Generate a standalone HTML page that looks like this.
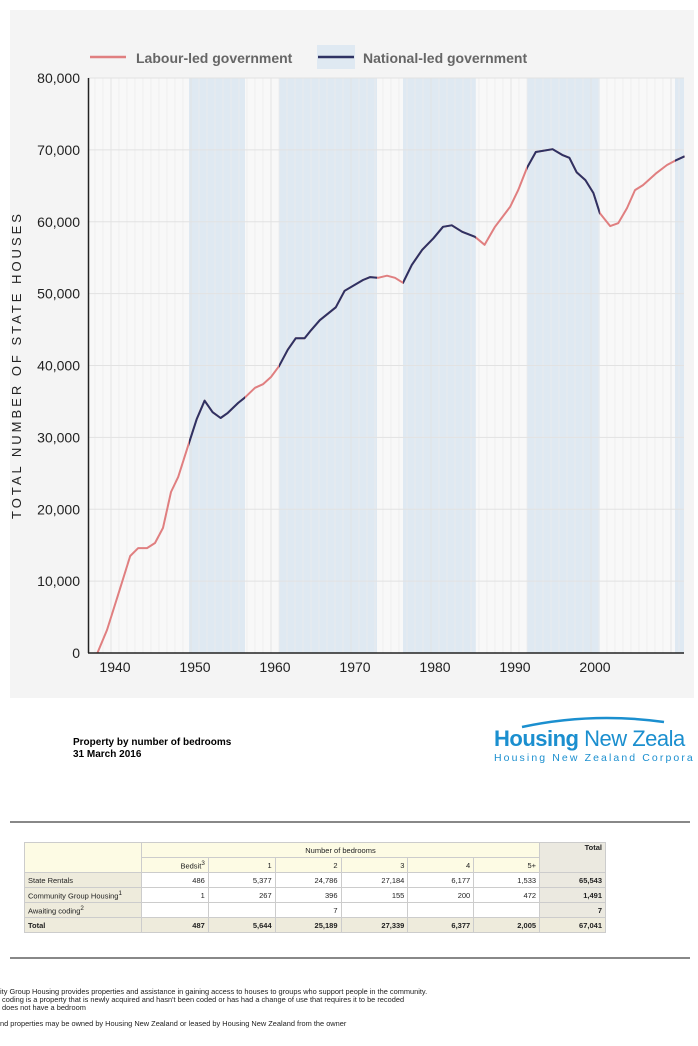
<!DOCTYPE html>
<html><head><meta charset="utf-8"><style>
body{margin:0;width:698px;height:1046px;background:#fff;font-family:"Liberation Sans",sans-serif;position:relative;overflow:hidden}
.abs{position:absolute}
table{border-collapse:collapse;font-size:7.5px;color:#222}
td{border:1px solid #ccc;padding:0 3px;height:14px;text-align:right;white-space:nowrap}
</style></head><body>
<svg class="abs" style="left:0;top:0" width="698" height="700">
<rect x="10" y="10" width="684" height="688" fill="#f4f4f4"/>
<g id="plot"></g>
</svg>
<div class="abs" style="left:73px;top:737px;font-size:10px;font-weight:bold;line-height:12px">Property by number of bedrooms<br>31 March 2016</div>
<div class="abs" style="left:492px;top:712px;width:206px;height:60px">
<svg class="abs" style="left:0;top:0" width="206" height="20"><path d="M30 15 Q100 0 172 10" stroke="#1b8fcf" stroke-width="2.5" fill="none"/></svg>
<div class="abs" style="left:2px;top:14px;font-size:22px;color:#1b8fcf;white-space:nowrap;letter-spacing:-0.5px"><b>Housing</b> New Zeala</div>
<div class="abs" style="left:2px;top:40px;font-size:10.5px;color:#1b8fcf;letter-spacing:2.1px;white-space:nowrap">Housing New Zealand Corpora</div>
</div>
<div class="abs" style="left:10px;top:821px;width:680px;height:2px;background:#888"></div>
<div class="abs" style="left:10px;top:957px;width:680px;height:2px;background:#888"></div>
<table class="abs" style="left:24px;top:842px;width:582px">
<colgroup><col style="width:117px"><col style="width:67px"><col style="width:67px"><col style="width:66px"><col style="width:67px"><col style="width:66px"><col style="width:66px"><col style="width:66px"></colgroup>
<tr><td rowspan="2" style="background:#fdfbe4"></td><td colspan="6" style="text-align:center;background:#fdfbe4">Number of bedrooms</td><td rowspan="2" style="background:#ebe9e0;vertical-align:top;font-weight:bold">Total</td></tr>
<tr style="background:#fdfbe4"><td>Bedsit<sup>3</sup></td><td>1</td><td>2</td><td>3</td><td>4</td><td>5+</td></tr>
<tr><td style="text-align:left;background:#eeebdc">State Rentals</td><td>486</td><td>5,377</td><td>24,786</td><td>27,184</td><td>6,177</td><td>1,533</td><td style="background:#ebe9e0;font-weight:bold">65,543</td></tr>
<tr><td style="text-align:left;background:#eeebdc">Community Group Housing<sup>1</sup></td><td>1</td><td>267</td><td>396</td><td>155</td><td>200</td><td>472</td><td style="background:#ebe9e0;font-weight:bold">1,491</td></tr>
<tr><td style="text-align:left;background:#eeebdc">Awaiting coding<sup>2</sup></td><td></td><td></td><td>7</td><td></td><td></td><td></td><td style="background:#ebe9e0;font-weight:bold">7</td></tr>
<tr style="background:#eeebdc;font-weight:bold"><td style="text-align:left">Total</td><td>487</td><td>5,644</td><td>25,189</td><td>27,339</td><td>6,377</td><td>2,005</td><td>67,041</td></tr>
</table>
<div class="abs" style="left:0;top:988px;font-size:7.4px;line-height:8px;color:#222;white-space:nowrap">ity Group Housing provides properties and assistance in gaining access to houses to groups who support people in the community.<br>&nbsp;coding is a property that is newly acquired and hasn't been coded or has had a change of use that requires it to be recoded<br>&nbsp;does not have a bedroom<br><br>nd properties may be owned by Housing New Zealand or leased by Housing New Zealand from the owner</div>
<script>
const years=[1937.8,1939,1940.5,1941.9,1942.9,1944,1945,1946,1947,1947.9,1949.1,1950.2,1951.2,1952.2,1953.2,1954.1,1955.4,1956.2,1957.5,1958.5,1959.5,1960.5,1961.6,1962.6,1963.7,1964.5,1965.6,1967.6,1968.7,1971,1971.9,1972.9,1974,1975,1976,1977.1,1978.4,1979.8,1981,1982.1,1983.4,1985,1986.2,1987.5,1989.4,1990.4,1991.5,1992.6,1994.7,1995.9,1996.8,1997.7,1998.8,1999.8,2000.6,2001.9,2002.9,2004,2005,2006,2007.7,2009,2010,2011.2];
const houses=[0,3200,8500,13500,14600,14600,15300,17400,22400,24500,28700,32500,35100,33500,32700,33400,34800,35500,36900,37400,38400,39900,42200,43800,43800,44900,46300,48100,50400,51900,52300,52200,52500,52200,51500,54000,56100,57700,59300,59500,58600,57900,56800,59300,62100,64400,67500,69700,70100,69300,68900,66900,65800,64000,61200,59400,59800,61900,64400,65100,66800,67900,68500,69100];
const nationalStart=[1949.25,1960.5,1976,1991.5,2010];
const nationalEnd=[1956.25,1972.75,1985.1,2000.6,2011.2];
const xTicks=[1940,1950,1960,1970,1980,1990,2000];
const yTicks=[0,10000,20000,30000,40000,50000,60000,70000,80000];
const NS="http://www.w3.org/2000/svg";
const X0=88,X1=684,Y0=653,Y1=78;
const x=v=>115+(v-1940)*8;
const y=v=>Y0-(v/80000)*(Y0-Y1);
const g=document.getElementById('plot');
function mk(t,a){const e=document.createElementNS(NS,t);for(const k in a)e.setAttribute(k,a[k]);g.appendChild(e);return e;}
let e=mk('rect',{x:X0,y:Y1,width:X1-X0,height:Y0-Y1,fill:'#f8f8f8'});


nationalStart.forEach((s,i)=>{const r=mk('rect',{x:x(s),y:Y1,width:Math.min(x(nationalEnd[i]),X1)-x(s),height:Y0-Y1,fill:'#dfe9f2'});

});
for(let yr=1937;yr<=2011;yr++){const xv=x(yr)-4;if(xv<=X0||xv>=X1)continue;const l=mk('line',{x1:xv,x2:xv,y1:Y1,y2:Y0,stroke:(yr%10==0)?'#e0e0e0':'#ececec','stroke-width':0.8});

}
yTicks.forEach(t=>{const l=mk('line',{x1:X0,x2:X1,y1:y(t),y2:y(t),stroke:'#e2e2e2','stroke-width':1});


const tx=mk('text',{x:80,y:y(t)+5,'text-anchor':'end','font-size':14,fill:'#222'});tx.textContent=t.toLocaleString('en-US');

});
xTicks.forEach(t=>{const tx=mk('text',{x:x(t),y:672,'text-anchor':'middle','font-size':14,fill:'#222'});tx.textContent=t;

});
const defs=mk('defs',{});const cp=document.createElementNS(NS,'clipPath');cp.setAttribute('id','natclip');defs.appendChild(cp);
nationalStart.forEach((s,i)=>{const r=document.createElementNS(NS,'rect');r.setAttribute('x',x(s));r.setAttribute('y',0);r.setAttribute('width',x(nationalEnd[i])-x(s));r.setAttribute('height',700);cp.appendChild(r);});
const d=years.map((yr,i)=>(i?'L':'M')+x(yr).toFixed(1)+' '+y(houses[i]).toFixed(1)).join(' ');
e=mk('path',{d:d,fill:'none',stroke:'#e07f80','stroke-width':2,'stroke-linejoin':'round'});


e=mk('path',{d:d,fill:'none',stroke:'#2e3263','stroke-width':2,'stroke-linejoin':'round','clip-path':'url(#natclip)'});


e=mk('line',{x1:X0+0.5,x2:X0+0.5,y1:Y1,y2:Y0,stroke:'#222','stroke-width':1.5});


e=mk('line',{x1:X0,x2:X1,y1:Y0,y2:Y0,stroke:'#222','stroke-width':1.5});


e=mk('text',{x:0,y:0,transform:'translate(21,365) rotate(-90)','text-anchor':'middle','font-size':13,'letter-spacing':3,fill:'#222'});e.textContent='TOTAL NUMBER OF STATE HOUSES';


e=mk('line',{x1:90,x2:126,y1:57,y2:57,stroke:'#e07f80','stroke-width':2.5});


e=mk('text',{x:136,y:63,'font-size':14,'font-weight':'bold',fill:'#666'});e.textContent='Labour-led government';


e=mk('rect',{x:317,y:45,width:38,height:24,fill:'#dfe9f2'});


e=mk('line',{x1:318,x2:354,y1:57,y2:57,stroke:'#2e3263','stroke-width':2.5});


e=mk('text',{x:363,y:63,'font-size':14,'font-weight':'bold',fill:'#666'});e.textContent='National-led government';


</script>
</body></html>
